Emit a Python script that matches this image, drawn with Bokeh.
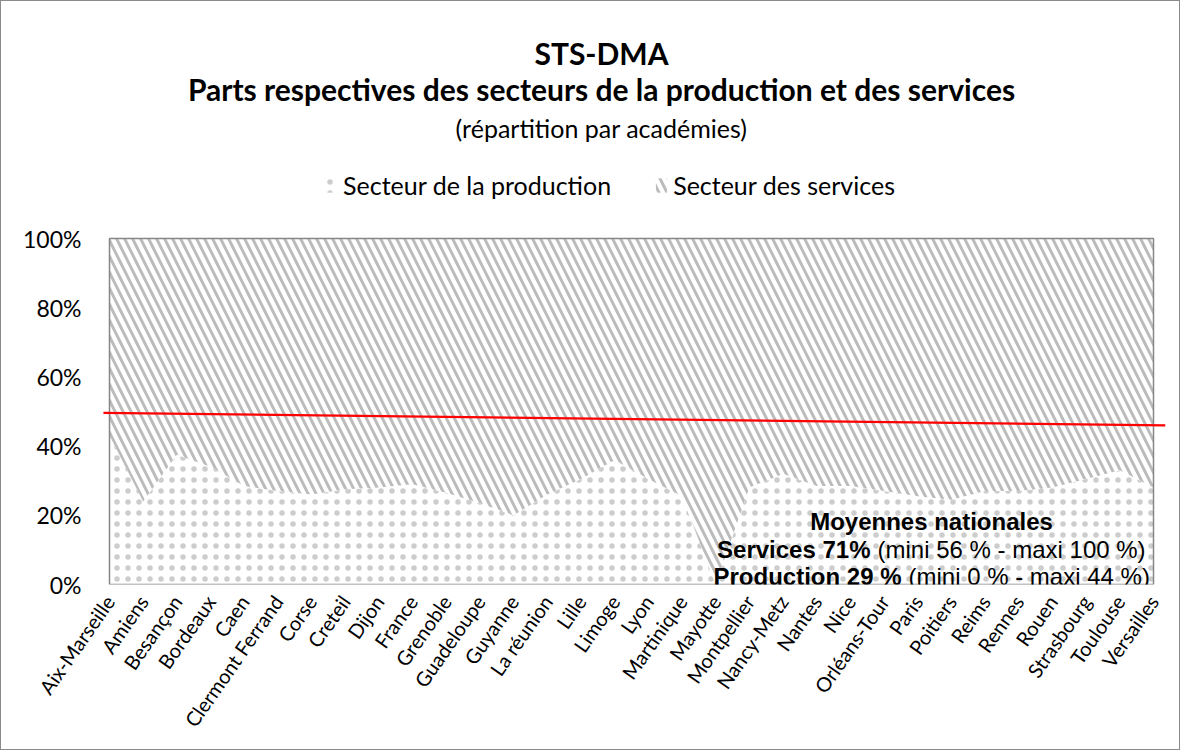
from bokeh.plotting import figure
from bokeh.models import (ColumnDataSource, Range1d, FixedTicker, Label, Legend,
                          LegendItem, PrintfTickFormatter)
from bokeh.embed import file_html
from bokeh.resources import INLINE

academies = ["Aix-Marseille", "Amiens", "Besançon", "Bordeaux", "Caen", "Clermont Ferrand",
             "Corse", "Creteil", "Dijon", "France", "Grenoble", "Guadeloupe", "Guyanne",
             "La réunion", "Lille", "Limoge", "Lyon", "Martinique", "Mayotte", "Montpellier",
             "Nancy-Metz", "Nantes", "Nice", "Orléans-Tour", "Paris", "Poitiers", "Reims",
             "Rennes", "Rouen", "Strasbourg", "Toulouse", "Versailles"]
production = [43, 24, 37.5, 34, 28.5, 27, 26, 27.5, 28, 29, 26.5, 23.5, 20, 26, 30.5, 36,
              30.5, 25.5, 0, 28, 32, 28.5, 28.5, 27, 25.5, 24.5, 27, 27, 28, 30.5, 33, 28]
services = [57, 76, 62.5, 66, 71.5, 73, 74, 72.5, 72, 71, 73.5, 76.5, 80, 74, 69.5, 64,
            69.5, 74.5, 100, 72, 68, 71.5, 71.5, 73, 74.5, 75.5, 73, 73, 72, 69.5, 67, 72]
y_ticks = [0, 20, 40, 60, 80, 100]
trend_x = [-0.18, 31.35]
trend_y = [49.6, 46.0]

# layout (figure pixels)
W, H = 1180, 750
PL, PR, PT, PB = 108, 1152, 237, 583      # visible plot area
FRL, FRR = 96, 1170                        # drawing frame (wider, reaches the top)
n = len(academies)
ux = (PR - PL) / (n - 1)                   # px per category
uy = (PB - PT) / 100.0                     # px per percent


def dxp(px):
    return (px - PL) / ux


def dyp(py):
    return (PB - py) / uy


src = ColumnDataSource(dict(x=list(range(n)), prod=production, serv=services))

p = figure(width=W, height=H, output_backend="svg", toolbar_location=None,
           x_range=Range1d(dxp(FRL), dxp(FRR)), y_range=Range1d(0, dyp(0)),
           min_border_left=FRL, min_border_right=W - FRR,
           min_border_top=0, min_border_bottom=H - PB,
           background_fill_color="white", border_fill_color="white")
p.styles = {"border": "1px solid #8a8a8a"}
p.outline_line_color = None

rs = p.varea_stack(["prod", "serv"], x="x", source=src,
                   fill_color=["white", "white"],
                   hatch_pattern=["dot", "left_diagonal_line"],
                   hatch_color=["#cdcdcd", "#bcbcbc"],
                   hatch_scale=[11, 16], hatch_weight=[1.2, 3.0])

# plot-area border
p.quad(left=[0], right=[n - 1], bottom=[0], top=[100], fill_color=None,
       line_color="#868686", line_width=1.5)

# red reference line
p.line(trend_x, trend_y, line_color="#ff0000", line_width=2.2)

p.grid.grid_line_color = None
p.axis.axis_line_color = None
p.axis.major_tick_line_color = None
p.axis.minor_tick_line_color = None

p.xaxis.ticker = FixedTicker(ticks=list(range(n)))
p.xaxis.major_label_overrides = {i: a for i, a in enumerate(academies)}
p.xaxis.major_label_orientation = 0.96
p.xaxis.major_label_standoff = 7
p.xaxis.major_label_text_font = "Lato"
p.xaxis.major_label_text_font_size = "20px"
p.xaxis.major_label_text_color = "black"

p.yaxis.ticker = FixedTicker(ticks=y_ticks)
p.yaxis.formatter = PrintfTickFormatter(format="%d%%")
p.yaxis.major_label_standoff = 10
p.yaxis.major_label_text_font = "Lato"
p.yaxis.major_label_text_font_size = "23px"
p.yaxis.major_label_text_color = "black"

# titles
cx = dxp(600)
for txt, py, size, style in [("STS-DMA", 51, "30px", "bold"),
                             ("Parts respectives des secteurs de la production et des services",
                              87, "30px", "bold"),
                             ("(répartition par académies)", 126, "25px", "normal")]:
    p.add_layout(Label(x=cx, y=dyp(py), text=txt, text_align="center",
                       text_baseline="middle", text_font="Lato",
                       text_font_style=style, text_font_size=size, text_color="black"))

# annotation block
ann = dict(text_baseline="alphabetic", text_font="Liberation Sans",
           text_font_size="24px", text_color="black")
p.add_layout(Label(x=dxp(930), y=dyp(520), text="Moyennes nationales", text_align="center",
                   text_font_style="bold", **ann))
p.add_layout(Label(x=dxp(869), y=dyp(548), text="Services 71%", text_align="right",
                   text_font_style="bold", **ann))
p.add_layout(Label(x=dxp(869), y=dyp(548), x_offset=7, text="(mini 56 % - maxi 100 %)",
                   text_align="left", **ann))
p.add_layout(Label(x=dxp(900), y=dyp(575), text="Production 29 %", text_align="right",
                   text_font_style="bold", **ann))
p.add_layout(Label(x=dxp(900), y=dyp(575), x_offset=7, text="(mini 0 % - maxi 44 %)",
                   text_align="left", **ann))

legend = Legend(items=[LegendItem(label="Secteur de la production", renderers=[rs[0]]),
                       LegendItem(label="Secteur des services", renderers=[rs[1]])],
                orientation="horizontal", location=(323 - FRL, PB - 199),
                padding=0, margin=0, spacing=43, label_standoff=5,
                glyph_width=14, glyph_height=18,
                label_text_font="Lato", label_text_font_size="25px",
                label_text_color="black",
                border_line_color=None, background_fill_alpha=0)
p.add_layout(legend)

open("out.html", "w").write(file_html(p, INLINE))
